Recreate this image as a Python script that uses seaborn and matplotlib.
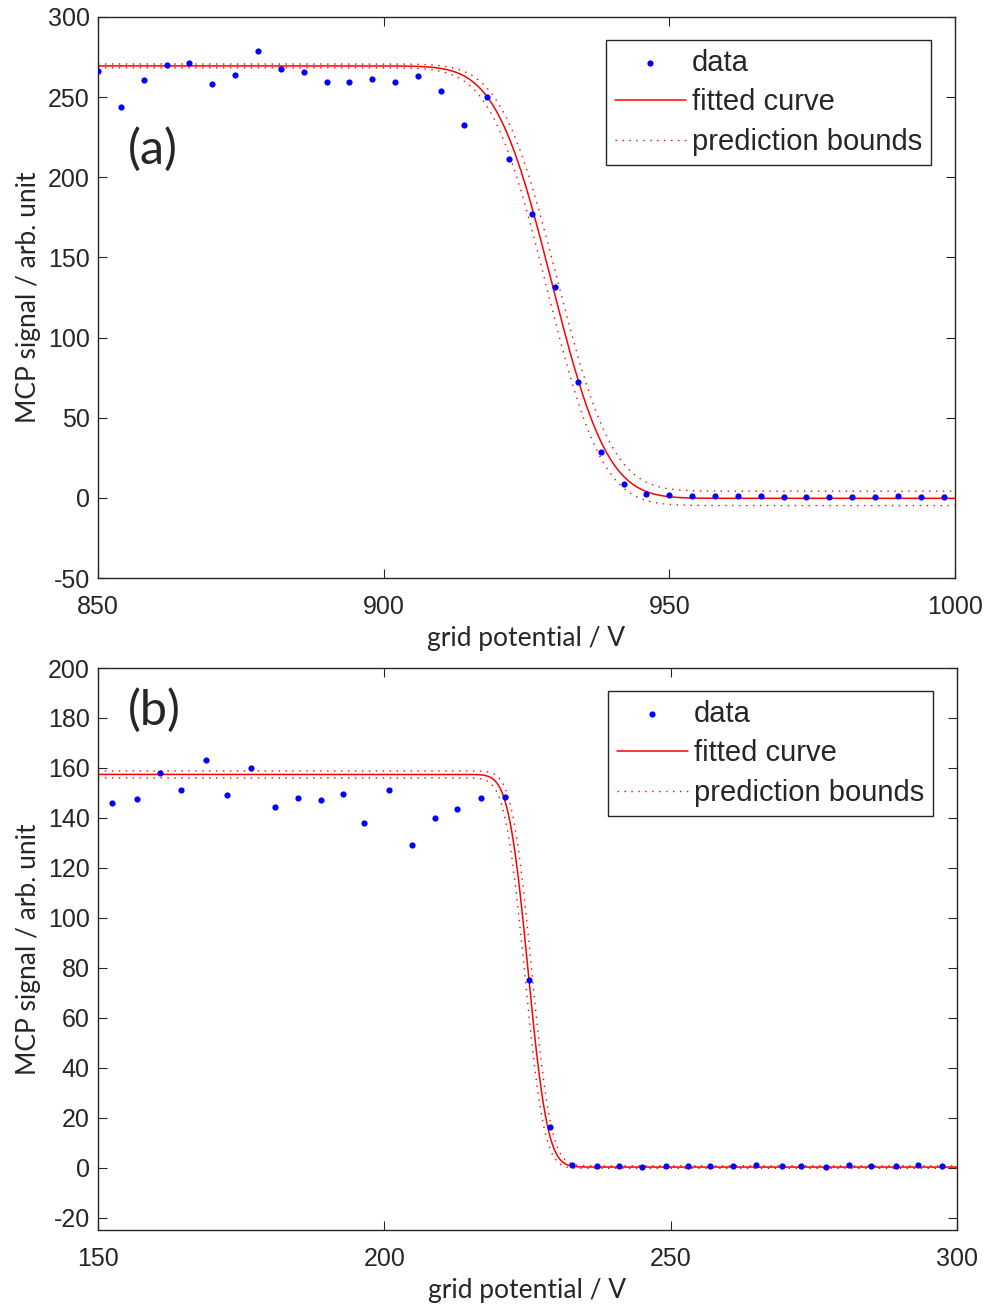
import math
import numpy as np
import matplotlib
matplotlib.use("Agg")
import matplotlib.pyplot as plt
import seaborn as sns

# panel (a): grid scan around 930 V
volts_a = [850, 854, 858, 862, 866, 870, 874, 878, 882, 886, 890, 894, 898, 902,
           906, 910, 914, 918, 922, 926, 930, 934, 938, 942, 946, 950, 954, 958,
           962, 966, 970, 974, 978, 982, 986, 990, 994, 998]
signal_a = [266.4, 243.6, 260.8, 269.9, 271.4, 258.1, 263.9, 278.8, 267.4, 265.4,
            259.2, 259.3, 261.4, 259.2, 263.5, 253.9, 232.8, 250.2, 211.4, 177.3,
            131.5, 72.5, 28.8, 8.8, 2.4, 1.7, 1.1, 1.1, 0.9, 0.9,
            0.7, 0.7, 0.5, 0.7, 0.7, 0.9, 0.7, 0.5]

# panel (b): grid scan around 225 V
volts_b = [152.5, 156.8, 160.9, 164.5, 168.9, 172.6, 176.8, 180.9, 185.0, 189.0,
           192.8, 196.5, 200.9, 204.8, 208.8, 212.7, 216.8, 221.1, 225.2, 228.9,
           232.8, 237.2, 241.0, 245.0, 249.2, 253.1, 256.9, 260.8, 264.9, 269.4,
           272.8, 277.1, 281.2, 284.9, 289.3, 293.2, 297.3]
signal_b = [146.1, 147.5, 158.1, 151.1, 163.0, 149.1, 160.1, 144.5, 147.9, 147.0,
            149.5, 137.9, 151.3, 129.0, 139.9, 143.7, 147.9, 148.2, 74.9, 16.2,
            0.9, 0.7, 0.5, 0.2, 0.5, 0.6, 0.6, 0.7, 1.0, 0.5,
            0.6, 0.3, 0.9, 0.6, 0.6, 1.0, 0.6]

# fit results (amplitude, centre, width, offset) and bound widths (top, bottom, shift)
fit_a = (269.8, 929.4, 7.7, -0.3)
bounds_a = (1.2, 4.5, 0.9)
fit_b = (157.2, 225.1, 2.7, 0.2)
bounds_b = (1.4, 0.5, 0.6)

erf = np.vectorize(math.erf)


def step_curve(x, amp, center, sigma, offset):
    return offset + amp * 0.5 * (1 - erf((x - center) / (sigma * math.sqrt(2))))


sns.set_theme(style="ticks")
plt.rcParams["font.family"] = ["Liberation Sans", "DejaVu Sans"]
plt.rcParams["axes.unicode_minus"] = False
label_font = ["Lato", "DejaVu Sans"]
axis_col = "#262626"
dotted = (0, (1, 4))


def draw_panel(ax, x, y, fit, bounds, xlim, ylim, xticks, yticks, tag, tag_y):
    amp, center, sigma, offset = fit
    dt, db, dx = bounds
    xs = np.linspace(xlim[0], xlim[1], 1200)
    fitted = step_curve(xs, amp, center, sigma, offset)
    upper = step_curve(xs, amp + dt - db, center + dx, sigma, offset + db)
    lower = step_curve(xs, amp - dt + db, center - dx, sigma, offset - db)

    sns.lineplot(x=xs, y=fitted, color="red", linewidth=1.1, ax=ax,
                 label="fitted curve", sort=False, errorbar=None)
    sns.lineplot(x=xs, y=upper, color="red", linewidth=1.0, linestyle=dotted,
                 ax=ax, label="prediction bounds", sort=False, errorbar=None)
    sns.lineplot(x=xs, y=lower, color="red", linewidth=1.0, linestyle=dotted,
                 ax=ax, label="_nolegend_", sort=False, errorbar=None)
    sns.scatterplot(x=x, y=y, color="blue", s=20, linewidth=0, ax=ax,
                    label="data", zorder=3)

    ax.set_xlim(*xlim)
    ax.set_ylim(*ylim)
    ax.set_xticks(xticks)
    ax.set_yticks(yticks)
    ax.tick_params(direction="in", top=True, right=True, length=6.5, width=0.8,
                   colors=axis_col, labelsize=18)
    ax.tick_params(axis="x", pad=12)
    ax.tick_params(axis="y", pad=6)
    for sp in ax.spines.values():
        sp.set_color(axis_col)
        sp.set_linewidth(1.0)
    ax.set_xlabel("grid potential / V", fontsize=19, family=label_font,
                  color=axis_col, labelpad=5)
    ax.set_ylabel("MCP signal / arb. unit", fontsize=19, family=label_font,
                  color=axis_col, labelpad=5)
    ax.text(0.035, tag_y, tag, transform=ax.transAxes,
            fontsize=35, family=label_font, ha="left", va="center")

    handles, labels = ax.get_legend_handles_labels()
    order = [labels.index(k) for k in ["data", "fitted curve", "prediction bounds"]]
    leg = ax.legend([handles[i] for i in order], [labels[i] for i in order],
                    loc="upper right", bbox_to_anchor=(0.972, 0.959),
                    fontsize=21, frameon=True, fancybox=False, framealpha=1,
                    edgecolor=axis_col, borderaxespad=0, borderpad=0.3,
                    handlelength=2.45, handletextpad=0.2, labelspacing=0.4)
    leg.get_frame().set_linewidth(1.0)


fig = plt.figure(figsize=(9.84, 13.08), dpi=100)
ax_a = fig.add_axes([98 / 984, 1 - 578 / 1308, 857 / 984, 561 / 1308])
ax_b = fig.add_axes([98 / 984, 1 - 1230 / 1308, 859 / 984, 562 / 1308])

draw_panel(ax_a, volts_a, signal_a, fit_a, bounds_a, (850, 1000), (-50, 300),
           [850, 900, 950, 1000], list(range(-50, 301, 50)), "(a)", 0.763)
draw_panel(ax_b, volts_b, signal_b, fit_b, bounds_b, (150, 300), (-25, 200),
           [150, 200, 250, 300], list(range(-20, 201, 20)), "(b)", 0.925)

fig.savefig("out.png", dpi=100)
